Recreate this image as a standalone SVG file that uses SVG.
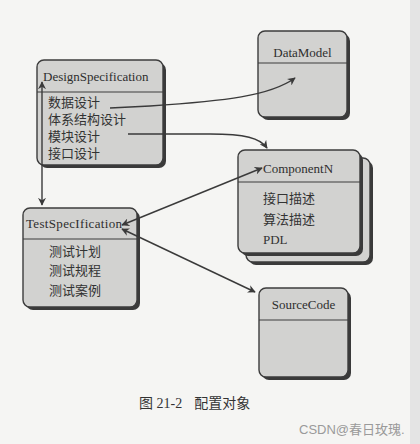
<svg xmlns="http://www.w3.org/2000/svg" width="420" height="444" viewBox="0 0 420 444">
<defs>
<style>
.sh{fill:#3a3a3a}
.bx{fill:#d2d2d0;stroke:#3c3c3c;stroke-width:1.4}
.hl{stroke:#3c3c3c;stroke-width:1.2}
.t{font-family:"Liberation Serif","Noto Sans CJK SC",serif;font-size:13px;fill:#2e2e2e}
.c{font-family:"Liberation Serif","Noto Sans CJK SC",serif;font-size:13px;fill:#333}
.ln{fill:none;stroke:#3a3a3a;stroke-width:1.4}
</style>
<marker id="ah" viewBox="0 0 10 10" refX="9" refY="5" markerWidth="8" markerHeight="8" markerUnits="userSpaceOnUse" orient="auto-start-reverse">
<path d="M0,0 L10,5 L0,10 L3,5 Z" fill="#3a3a3a"/>
</marker>
</defs>
<rect width="420" height="444" fill="#f5f5f3"/>
<rect x="410" y="0" width="10" height="444" fill="#e4e4e4"/>

<g id="DesignSpecification">
<rect class="sh" x="40" y="63" width="126" height="105" rx="7"/>
<rect class="bx" x="37" y="60" width="126" height="105" rx="7"/>
<line class="hl" x1="37" y1="92" x2="163" y2="92"/>
<text class="t" x="43" y="81">DesignSpecification</text>
<text class="c" x="48" y="107">数据设计</text>
<text class="c" x="48" y="124">体系结构设计</text>
<text class="c" x="48" y="141">模块设计</text>
<text class="c" x="48" y="158">接口设计</text>
</g>

<g id="DataModel">
<rect class="sh" x="261" y="34" width="89" height="86" rx="7"/>
<rect class="bx" x="258" y="31" width="89" height="86" rx="7"/>
<line class="hl" x1="258" y1="63" x2="347" y2="63"/>
<text class="t" x="302.5" y="57" text-anchor="middle">DataModel</text>
</g>

<g id="ComponentN">
<rect class="sh" x="249" y="161" width="124" height="104" rx="7"/>
<rect class="bx" x="246" y="158" width="124" height="104" rx="7"/>
<rect class="sh" x="241" y="153" width="122" height="103" rx="7"/>
<rect class="bx" x="238" y="150" width="122" height="103" rx="7"/>
<line class="hl" x1="238" y1="182" x2="360" y2="182"/>
<text class="t" x="263" y="173">ComponentN</text>
<text class="c" x="263" y="203">接口描述</text>
<text class="c" x="263" y="224">算法描述</text>
<text class="c" x="263" y="244">PDL</text>
</g>

<g id="TestSpecIfication">
<rect class="sh" x="26" y="211" width="114" height="99" rx="7"/>
<rect class="bx" x="23" y="208" width="114" height="99" rx="7"/>
<line class="hl" x1="23" y1="239" x2="137" y2="239"/>
<text class="t" x="26" y="228" textLength="96">TestSpecIfication</text>
<text class="c" x="75" y="256" text-anchor="middle">测试计划</text>
<text class="c" x="75" y="275" text-anchor="middle">测试规程</text>
<text class="c" x="75" y="295" text-anchor="middle">测试案例</text>
</g>

<g id="SourceCode">
<rect class="sh" x="262" y="291" width="89" height="89" rx="7"/>
<rect class="bx" x="259" y="288" width="89" height="89" rx="7"/>
<line class="hl" x1="259" y1="320" x2="348" y2="320"/>
<text class="t" x="303.5" y="309" text-anchor="middle">SourceCode</text>
</g>

<g id="connectors">
<path class="ln" d="M110,108 L150,106 C225,101 270,96 295,78" marker-end="url(#ah)"/>
<path class="ln" d="M128,134 L210,134 C245,134 260,138 267,148" marker-end="url(#ah)"/>
<path class="ln" d="M42,82 L42,205" marker-start="url(#ah)" marker-end="url(#ah)"/>
<path class="ln" d="M122,225 L262,168" marker-start="url(#ah)" marker-end="url(#ah)"/>
<path class="ln" d="M122,229 L255,292" marker-start="url(#ah)" marker-end="url(#ah)"/>
</g>

<text x="139" y="408" font-family="Liberation Serif,Noto Sans CJK SC,serif" font-size="14" fill="#333">图 21-2<tspan dx="12">配置对象</tspan></text>
<text x="299" y="434" font-family="Liberation Sans,Noto Sans CJK SC,sans-serif" font-size="13" fill="#9a9a9a">CSDN@春日玫瑰.</text>
</svg>
